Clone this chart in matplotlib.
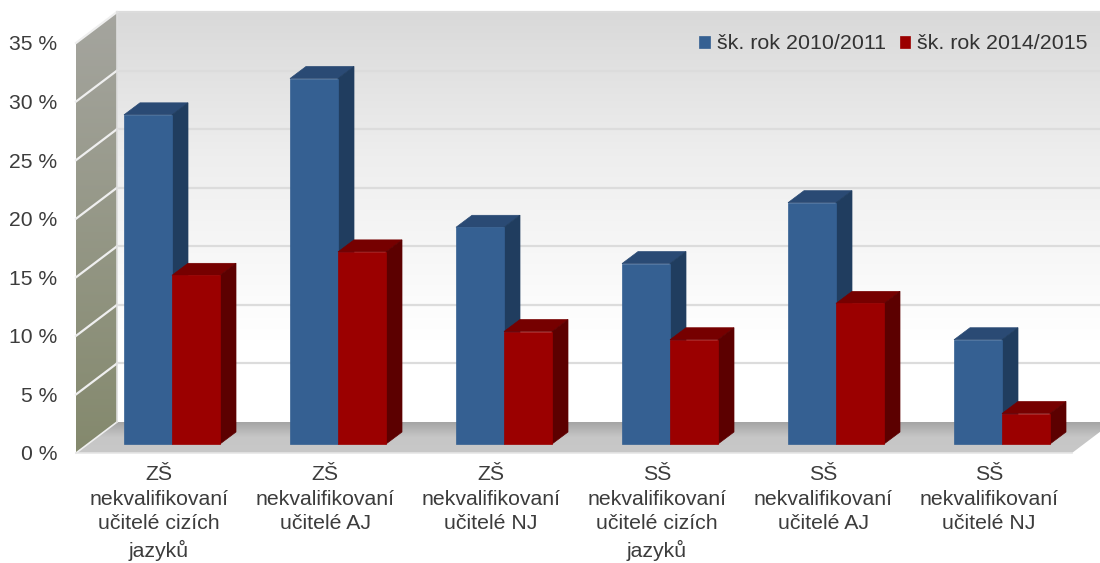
import numpy as np
import matplotlib
matplotlib.use("Agg")
import matplotlib.pyplot as plt
from matplotlib.colors import LinearSegmentedColormap
from matplotlib.patches import Polygon

plt.rcParams['font.family'] = ['Liberation Sans', 'DejaVu Sans']

categories = ["ZŠ\nnekvalifikovaní\nučitelé cizích\njazyků",
              "ZŠ\nnekvalifikovaní\nučitelé AJ",
              "ZŠ\nnekvalifikovaní\nučitelé NJ",
              "SŠ\nnekvalifikovaní\nučitelé cizích\njazyků",
              "SŠ\nnekvalifikovaní\nučitelé AJ",
              "SŠ\nnekvalifikovaní\nučitelé NJ"]
values_2010 = [28.1, 31.2, 18.5, 15.4, 20.6, 8.9]
values_2014 = [14.4, 16.4, 9.6, 8.9, 12.0, 2.6]
series_names = ["šk. rok 2010/2011", "šk. rok 2014/2015"]
y_ticks = [0, 5, 10, 15, 20, 25, 30, 35]

W, H = 1100, 563
LEFT, RIGHT, BOTTOM, TOP = 76, 1072, 453, 43

fig = plt.figure(figsize=(W / 100, H / 100), dpi=100, facecolor='white')
ax = fig.add_axes([LEFT / W, 1 - BOTTOM / H, (RIGHT - LEFT) / W, (BOTTOM - TOP) / H])
ax.patch.set_visible(False)
for s in ax.spines.values():
    s.set_visible(False)

# pixels to data units
px_x = 6 / (RIGHT - LEFT)
px_y = 35 / (BOTTOM - TOP)
x0 = -0.5
x1 = 5.5
wall_dx = 41 * px_x
wall_dy = 31 * px_y
x_end = x0 + (W - LEFT) * px_x


def gradient(corners, stops, extent):
    patch = Polygon(corners, closed=True, facecolor='none', edgecolor='none', clip_on=False, zorder=1)
    ax.add_patch(patch)
    cmap = LinearSegmentedColormap.from_list('g', stops)
    ramp = np.linspace(0, 1, 256).reshape(-1, 1)
    im = ax.imshow(ramp, cmap=cmap, extent=extent, aspect='auto', origin='upper', zorder=1,
                   interpolation='bilinear')
    im.set_clip_path(patch)
    im.set_clip_box(fig.bbox)


# back wall
gradient([(x0 + wall_dx, wall_dy), (x_end, wall_dy), (x_end, 35 + wall_dy), (x0 + wall_dx, 35 + wall_dy)],
         [(0, '#d9d9d9'), (0.35, '#eeeeee'), (0.8, '#ffffff'), (1, '#ffffff')],
         [x0 + wall_dx, x_end, wall_dy, 35 + wall_dy])
# side wall
gradient([(x0, 0), (x0 + wall_dx, wall_dy), (x0 + wall_dx, 35 + wall_dy), (x0, 35)],
         [(0, '#a5a59f'), (1, '#84896d')],
         [x0, x0 + wall_dx, 0, 35 + wall_dy])
# floor
gradient([(x0, 0), (x1, 0), (x_end, wall_dy * (x_end - x1) / wall_dx), (x_end, wall_dy), (x0 + wall_dx, wall_dy)],
         [(0, '#a2a2a2'), (0.5, '#c6c6c6'), (1, '#c8c8c8')],
         [x0, x_end, 0, wall_dy])

# grid lines, back wall and side wall
for t in y_ticks[1:]:
    ax.plot([x0 + wall_dx, x_end], [t + wall_dy, t + wall_dy], color='#dcdcdc', lw=1.6, zorder=2, clip_on=False)
    ax.plot([x0, x0 + wall_dx], [t, t + wall_dy], color='#efefef', lw=1.6, zorder=2, clip_on=False)
ax.plot([x0, x0 + wall_dx], [0, wall_dy], color='#efefef', lw=1.2, zorder=2, clip_on=False)
ax.plot([x0 + wall_dx, x0 + wall_dx], [wall_dy, 35 + wall_dy], color='#dddddd', lw=1.2, zorder=2, clip_on=False)
ax.plot([x0, x1], [0, 0], color='#e6e6e6', lw=1.2, zorder=2, clip_on=False)

# bars sit a third of the way into the floor
bar_w = 48 * px_x
shift_x = 13 * px_x
base = 9 * px_y
dep_x = 16 * px_x
dep_y = 12 * px_y
blue = ('#356092', '#2a4a74', '#203d5f')
red = ('#9b0000', '#760000', '#5c0000')
x = np.arange(len(categories))

handles = []
for off, vals, cols, name, z in [(-bar_w / 2, values_2010, blue, series_names[0], 3),
                                 (bar_w / 2, values_2014, red, series_names[1], 6)]:
    bars = ax.bar(x + shift_x + off, vals, width=bar_w, bottom=base, color=cols[0],
                  edgecolor=cols[0], lw=0.5, zorder=z + 2, label=name, clip_on=False)
    handles.append(bars)
    for b in bars:
        l, r = b.get_x(), b.get_x() + b.get_width()
        top = b.get_y() + b.get_height()
        ax.add_patch(Polygon([(l, top), (r, top), (r + dep_x, top + dep_y), (l + dep_x, top + dep_y)],
                             closed=True, facecolor=cols[1], edgecolor=cols[1], lw=0.5, zorder=z, clip_on=False))
        ax.add_patch(Polygon([(r, base), (r + dep_x, base + dep_y), (r + dep_x, top + dep_y), (r, top)],
                             closed=True, facecolor=cols[2], edgecolor=cols[2], lw=0.5, zorder=z + 1, clip_on=False))

ax.set_xlim(x0, x1)
ax.set_ylim(0, 35)
ax.set_xticks(x)
ax.set_xticklabels(categories, fontsize=15.3, color='#3c3c3c', linespacing=1.36)
ax.set_yticks(y_ticks)
ax.set_yticklabels([f"{t} %" for t in y_ticks], fontsize=15.2, color='#3c3c3c')
ax.tick_params(axis='x', length=0, pad=9)
ax.tick_params(axis='y', length=0, pad=13.5)

ax.legend(handles=handles, loc='upper right', bbox_to_anchor=(1092 / W, 1 - 30 / H),
          bbox_transform=fig.transFigure, ncols=2, frameon=False, fontsize=15.4, labelcolor='#333333',
          handlelength=0.48, handleheight=0.48, handletextpad=0.32, columnspacing=0.68,
          borderpad=0.2, borderaxespad=0)

fig.savefig('out.png', dpi=100)
